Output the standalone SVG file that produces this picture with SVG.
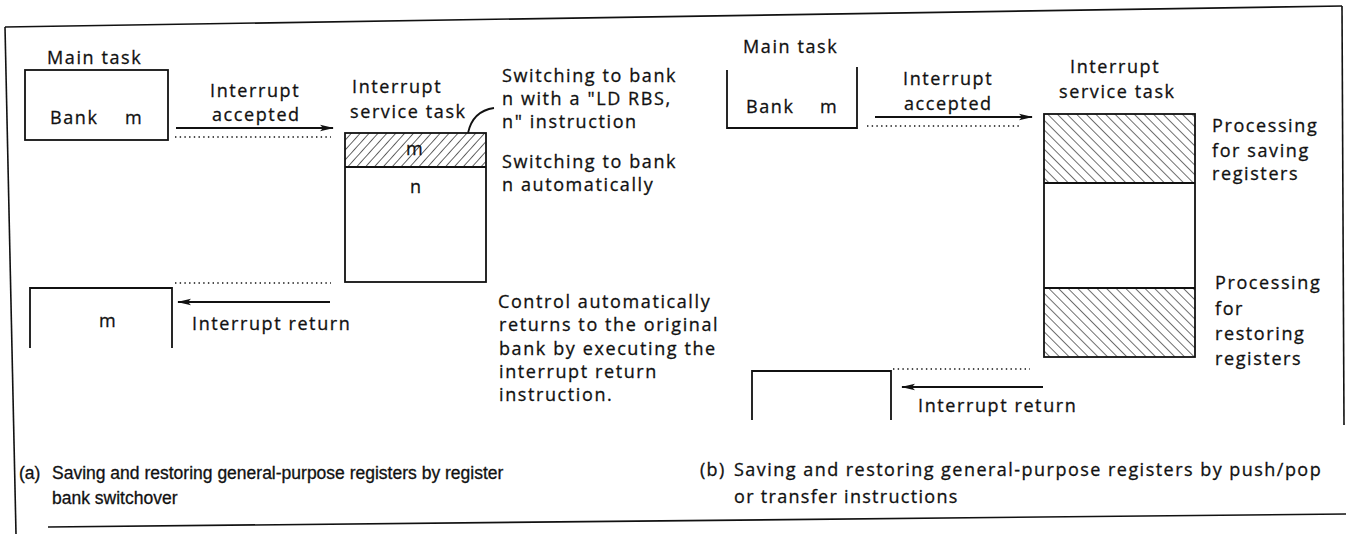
<svg xmlns="http://www.w3.org/2000/svg" width="1346" height="534" viewBox="0 0 1346 534">
<style>
  .lbl{font-family:"Open Sans","Liberation Sans",sans-serif;font-size:18px;letter-spacing:1.6px;fill:#111;stroke:#111;stroke-width:0.3}
  .cap{font-family:"Liberation Sans",Arial,sans-serif;font-size:17.5px;fill:#111;stroke:#111;stroke-width:0.3}
  .capb{font-family:"Open Sans","Liberation Sans",sans-serif;font-size:18px;letter-spacing:1.3px;fill:#111;stroke:#111;stroke-width:0.3}
  .box{fill:none;stroke:#111;stroke-width:1.8}
  .frame{fill:none;stroke:#111;stroke-width:1.6}
  .arrow{fill:none;stroke:#111;stroke-width:1.8}
  .dot{fill:none;stroke:#111;stroke-width:1.5;stroke-dasharray:1.4 3.3}
</style>
<defs>
  <marker id="ah" markerUnits="userSpaceOnUse" markerWidth="14" markerHeight="8" refX="13" refY="4" orient="auto">
    <path d="M0,0.8 L14,4 L0,7.2 L3,4 Z" fill="#111"/>
  </marker>
  <pattern id="hatchA" patternUnits="userSpaceOnUse" width="6.6" height="6.6" patternTransform="rotate(42)">
    <line x1="0" y1="0" x2="0" y2="6.6" stroke="#111" stroke-width="1.3"/>
  </pattern>
  <pattern id="hatchB" patternUnits="userSpaceOnUse" width="6.8" height="6.8" patternTransform="rotate(-45)">
    <line x1="0" y1="0" x2="0" y2="6.8" stroke="#111" stroke-width="1.2"/>
  </pattern>
</defs>

<g id="frame">
  <line class="frame" x1="5" y1="27" x2="1342" y2="6"/>
  <line class="frame" x1="5" y1="27" x2="16" y2="534"/>
  <line class="frame" x1="1342" y1="6" x2="1344" y2="425"/>
  <line class="frame" x1="48" y1="527" x2="1346" y2="514"/>
</g>

<g id="a-main-task">
  <text class="lbl" x="47" y="64">Main task</text>
  <rect class="box" x="25" y="70" width="143" height="70"/>
  <text class="lbl" x="50" y="124">Bank</text>
  <text class="lbl" x="125" y="124">m</text>
</g>

<g id="a-service-task">
  <text class="lbl" x="352" y="93">Interrupt</text>
  <text class="lbl" x="350" y="118">service task</text>
  <rect x="345" y="133" width="141" height="34" fill="url(#hatchA)"/>
  <rect class="box" x="345" y="133" width="141" height="149"/>
  <line class="box" x1="345" y1="167" x2="486" y2="167"/>
  <text class="lbl" x="406" y="155">m</text>
  <text class="lbl" x="410" y="193">n</text>
</g>

<g id="a-return-task">
  <path class="box" d="M30,348 V288 H172 V348"/>
  <text class="lbl" x="99" y="327">m</text>
</g>

<g id="a-notes">
  <text class="lbl" x="502" y="82">Switching to bank</text>
  <text class="lbl" x="502" y="105">n with a "LD RBS,</text>
  <text class="lbl" x="502" y="128">n" instruction</text>
  <text class="lbl" x="502" y="168">Switching to bank</text>
  <text class="lbl" x="502" y="191">n automatically</text>
  <text class="lbl" x="498" y="308">Control automatically</text>
  <text class="lbl" x="499" y="331">returns to the original</text>
  <text class="lbl" x="499" y="355">bank by executing the</text>
  <text class="lbl" x="499" y="378">interrupt return</text>
  <text class="lbl" x="499" y="401">instruction.</text>
</g>

<g id="b-main-task">
  <text class="lbl" x="743" y="53">Main task</text>
  <path class="box" d="M727,70 V128 H857 V67"/>
  <text class="lbl" x="746" y="113">Bank</text>
  <text class="lbl" x="820" y="113">m</text>
</g>

<g id="b-service-task">
  <text class="lbl" x="1070" y="73">Interrupt</text>
  <text class="lbl" x="1059" y="98">service task</text>
  <rect x="1044" y="114" width="151" height="69" fill="url(#hatchB)"/>
  <rect x="1044" y="288" width="151" height="69" fill="url(#hatchB)"/>
  <rect class="box" x="1044" y="114" width="151" height="243"/>
  <line class="box" x1="1044" y1="183" x2="1195" y2="183"/>
  <line class="box" x1="1044" y1="288" x2="1195" y2="288"/>
  <text class="lbl" x="1212" y="132">Processing</text>
  <text class="lbl" x="1212" y="157">for saving</text>
  <text class="lbl" x="1212" y="180">registers</text>
  <text class="lbl" x="1215" y="289">Processing</text>
  <text class="lbl" x="1215" y="315">for</text>
  <text class="lbl" x="1215" y="340">restoring</text>
  <text class="lbl" x="1215" y="365">registers</text>
</g>

<g id="b-return-task">
  <path class="box" d="M752,420 V371 H891 V420"/>
</g>

<g id="connectors">
  <line class="arrow" x1="176" y1="128" x2="333" y2="128" marker-end="url(#ah)"/>
  <line class="dot" x1="175" y1="137" x2="331" y2="137"/>
  <line class="dot" x1="175" y1="283" x2="331" y2="283"/>
  <line class="arrow" x1="330" y1="302" x2="178" y2="302" marker-end="url(#ah)"/>
  <path class="arrow" d="M468,133 C471,119 480,110 494,108"/>
  <line class="arrow" x1="875" y1="117" x2="1032" y2="117" marker-end="url(#ah)"/>
  <line class="dot" x1="867" y1="126" x2="1022" y2="126"/>
  <line class="dot" x1="893" y1="369" x2="1030" y2="369"/>
  <line class="arrow" x1="1043" y1="387" x2="902" y2="387" marker-end="url(#ah)"/>
</g>

<g id="labels">
  <text class="lbl" x="210" y="97">Interrupt</text>
  <text class="lbl" x="212" y="121">accepted</text>
  <text class="lbl" x="192" y="330">Interrupt return</text>
  <text class="lbl" x="903" y="85">Interrupt</text>
  <text class="lbl" x="904" y="110">accepted</text>
  <text class="lbl" x="918" y="412">Interrupt return</text>
</g>

<g id="captions">
  <text class="cap" x="19" y="479">(a)</text>
  <text class="cap" x="52" y="479">Saving and restoring general-purpose registers by register</text>
  <text class="cap" x="52" y="504">bank switchover</text>
  <text class="capb" x="700" y="476">(b)</text>
  <text class="capb" x="734" y="476" textLength="588" lengthAdjust="spacing">Saving and restoring general-purpose registers by push/pop</text>
  <text class="capb" x="734" y="503">or transfer instructions</text>
</g>
</svg>
